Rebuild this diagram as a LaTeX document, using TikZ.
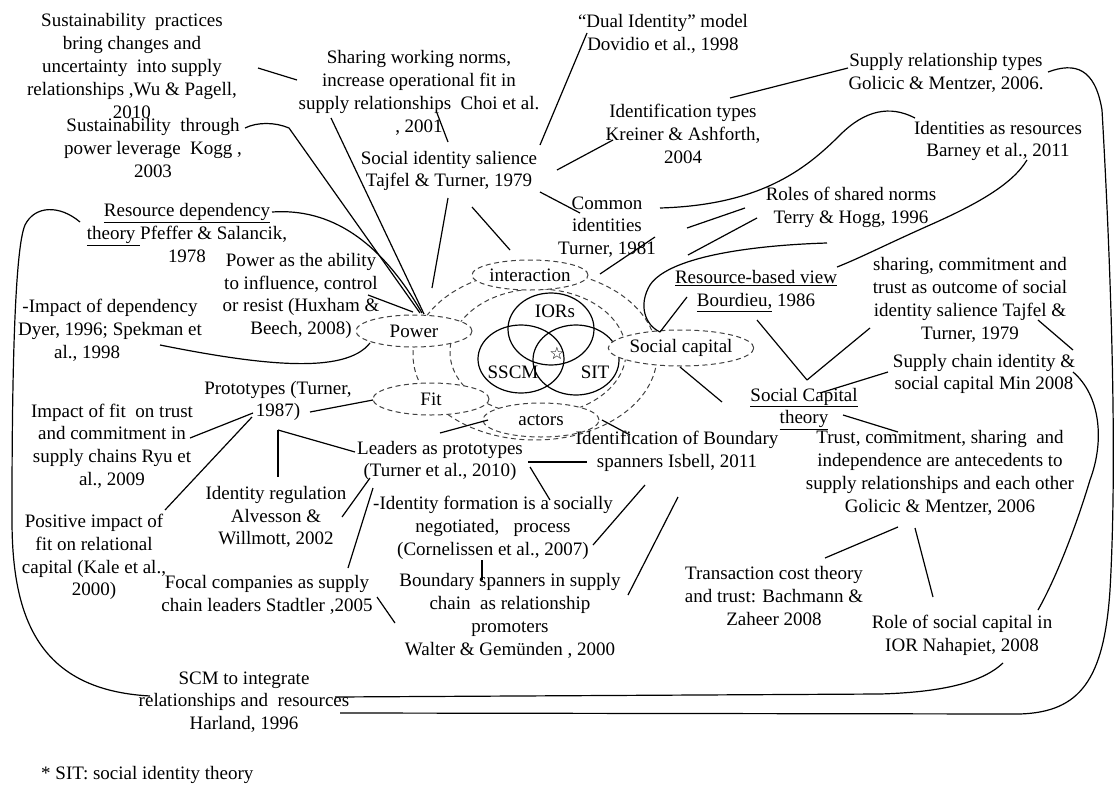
\documentclass[tikz,border=0pt]{standalone}
\usepackage{fontspec}
\setmainfont{Liberation Serif}
\newfontfamily\notesfont{Liberation Serif}
\newfontfamily\starfont{DejaVu Sans}
\usetikzlibrary{calc,shapes.geometric}

\begin{document}
\begin{tikzpicture}[x=1pt,y=-1pt,
  txt/.style={align=center,inner sep=1pt,font=\notesfont\fontsize{19pt}{22.8pt}\selectfont},
  link/.style={line width=1.2pt},
  dashring/.style={dash pattern=on 5pt off 3.5pt,line width=1pt,draw=black!75},
  topic/.style={ellipse,dashring,fill=white,minimum width=116pt,minimum height=32pt,inner sep=0pt,font=\notesfont\fontsize{19pt}{22.8pt}\selectfont},
  venn/.style={line width=1.2pt}]
\useasboundingbox (0,0) rectangle (1120,790);

% dashed rings round the core
\draw[dashring] (535,355) ellipse [x radius=122pt, y radius=85pt];
\draw[dashring] (538,352) ellipse [x radius=88pt, y radius=63pt];

% core Venn diagram
\draw[venn] (551,329) ellipse [x radius=43pt, y radius=36pt];
\draw[venn] (521,359) ellipse [x radius=43pt, y radius=34pt];
\draw[venn] (576,360) ellipse [x radius=43pt, y radius=35pt];
\node[txt] (ior) at (555,311) {IORs};
\node[txt] (sscm) at (513,372) {SSCM};
\node[txt] (sit) at (595,372) {SIT};
\node[inner sep=0pt,font=\starfont\fontsize{17pt}{17pt}\selectfont] (star) at (557,353) {☆};

% dashed concept ellipses
\node[topic] (power) at (414,331) {Power};
\node[topic] (fit) at (431,399) {Fit};
\node[topic,minimum height=30pt] (inter) at (530,275) {interaction};
\node[topic,minimum height=34pt] (actors) at (541,420) {actors};
\node[topic,minimum height=36pt] (socap) at (681,348) {Social capital};

% literature notes
\node[txt] (A) at (132,66) {Sustainability\ \ practices\\bring changes and\\uncertainty\ \ into supply\\relationships ,Wu \& Pagell,\\2010};
\node[txt] (B) at (153,148) {Sustainability\ \ through\\power leverage\ \ Kogg ,\\2003};
\node[txt] (C) at (419,93) {Sharing working norms,\\increase operational fit in\\supply relationships\ \ Choi et al.\\, 2001};
\node[txt] (D) at (449,171) {Social identity salience\\Tajfel \& Turner, 1979};
\node[txt] (E) at (663,34) {“Dual Identity” model\\Dovidio et al., 1998};
\node[txt] (F) at (683,134) {Identification types\\Kreiner \& Ashforth,\\2004};
\node[txt] (G) at (946,73) {Supply relationship types\\Golicic \& Mentzer, 2006.};
\node[txt] (H) at (998,141) {Identities as resources\\Barney et al., 2011};
\node[txt] (I) at (607,227) {Common\\identities\\Turner, 1981};
\node[txt] (J) at (851,207) {Roles of shared norms\\Terry \& Hogg, 1996};
\node[txt] (K) at (187,233) {\underline{Resource dependency}\\\underline{theory\ }Pfeffer \& Salancik,\\1978};
\node[txt] (L) at (301,296) {Power as the ability\\to influence, control\\or resist (Huxham \&\\Beech, 2008)};
\node[txt] (M) at (110,330) {-Impact of dependency\\Dyer, 1996; Spekman et\\al., 1998\hspace*{2.4em}};
\node[txt] (N) at (278,401) {Prototypes (Turner,\\1987)};
\node[txt] (O) at (112,446) {Impact of fit\ \ on trust\\and commitment in\\supply chains Ryu et\\al., 2009};
\node[txt] (P) at (94,557) {Positive impact of\\fit on relational\\capital (Kale et al.,\\2000)};
\node[txt] (Q) at (276,517) {Identity regulation\\Alvesson \&\\Willmott, 2002};
\node[txt] (R) at (267,595) {Focal companies as supply\\chain leaders Stadtler ,2005};
\node[txt] (S) at (440,461) {Leaders as prototypes\\(Turner et al., 2010)};
\node[txt] (T) at (493,528) {-Identity formation is a socially\\negotiated,\ \ \ process\\(Cornelissen et al., 2007)};
\node[txt] (U) at (677,451) {Identification of Boundary\\spanners Isbell, 2011};
\node[txt] (V) at (510,616) {Boundary spanners in supply\\chain\ \ as relationship\\promoters\\Walter \& Gemünden , 2000};
\node[txt] (W) at (756,291) {\underline{Resource-based view}\\\underline{Bourdieu,} 1986};
\node[txt] (X) at (970,300) {sharing, commitment and\\trust as outcome of social\\identity salience Tajfel \&\\Turner, 1979};
\node[txt] (Y) at (984,374) {Supply chain identity \&\\social capital Min 2008};
\node[txt] (Z) at (804,409) {\underline{Social Capital}\\\underline{theory}};
\node[txt] (AA) at (940,473) {Trust, commitment, sharing\ \ and\\independence are antecedents to\\supply relationships and each other\\Golicic \& Mentzer, 2006};
\node[txt] (AB) at (774,596) {Transaction cost theory\\and trust: Bachmann \&\\Zaheer 2008};
\node[txt] (AC) at (962,635) {Role of social capital in\\IOR Nahapiet, 2008};
\node[txt] (AD) at (244,702) {SCM to integrate\\relationships and\ \ resources\\Harland, 1996};
\node[txt,anchor=west] (AE) at (40,775) {* SIT: social identity theory};

\coordinate (ringtop) at (432,288);

% connectors, upper left
\draw[link] ($(A)+(126,2)$) -- ($(C)+(-122,-13)$);
\draw[link] ($(B)+(92,-20)$) .. controls ($(B)+(104,-26)$) and ($(B)+(122,-26)$) .. ($(B)+(136,-20)$) -- ($(power)+(6,-18)$);
\draw[link] ($(K)+(85,-21)$) .. controls ($(K)+(143,-25)$) and ($(K)+(193,7)$) .. ($(power)+(8,-18)$);
\draw[link] ($(C)+(-88,25)$) -- ($(power)+(10,-17)$);
\draw[link] ($(L)+(67,-1)$) -- ($(power)+(-1,-19)$);
\draw[link] ($(M)+(50,15)$) .. controls ($(M)+(150,35)$) and ($(M)+(235,45)$) .. ($(power)+(-44,12)$);
\draw[link] ($(K)+(-107,-11)$) .. controls (60,205) and (35,205) .. (25,225)
  .. controls (12,255) and (12,450) .. (12,520) .. controls (12,620) and (40,690) .. ($(AD)+(-94,-6)$);

% connectors round the salience note
\draw[link] ($(C)+(18,20)$) -- ($(D)+(-1,-29)$);
\draw[link] ($(D)+(91,-26)$) -- ($(E)+(-76,-1)$);
\draw[link] ($(D)+(108,-1)$) -- ($(F)+(-70,6)$);
\draw[link] ($(D)+(91,21)$) -- ($(I)+(-27,-14)$);
\draw[link] ($(D)+(23,36)$) -- ($(inter)+(-20,-25)$);
\draw[link] ($(D)+(-1,27)$) -- (ringtop);
\draw[link] ($(F)+(47,-36)$) -- ($(G)+(-98,-5)$);

% connectors, upper right
\draw[link] ($(G)+(102,-1)$) .. controls (1075,62) and (1095,68) .. (1102,110)
  .. controls (1110,250) and (1118,450) .. (1110,590)
  .. controls (1104,680) and (1080,712) .. (1020,714) -- ($(AD)+(96,11)$);
\draw[link] ($(H)+(-83,-23)$) .. controls (890,105) and (865,110) .. (840,135)
  .. controls (805,170) and (760,205) .. ($(I)+(53,-19)$);
\draw[link] ($(H)+(29,19)$) .. controls (1012,185) and (975,205) .. (930,225)
  .. controls (885,245) and (860,258) .. ($(W)+(81,-24)$);
\draw[link] ($(J)+(-106,1)$) -- ($(I)+(80,1)$);
\draw[link] ($(J)+(-94,11)$) -- ($(socap)+(7,-93)$);
\draw[link] ($(J)+(-24,36)$) .. controls (760,245) and (670,255) .. (650,285)
  .. controls (638,305) and (645,325) .. ($(socap)+(-21,-16)$);
\draw[link] ($(W)+(-69,6)$) -- ($(socap)+(-21,-16)$);
\draw[link] ($(inter)+(70,-1)$) -- ($(I)+(48,10)$);

% connectors round social capital theory
\draw[link] ($(socap)+(-1,19)$) -- ($(Z)+(-82,-7)$);
\draw[link] ($(W)+(1,29)$) -- ($(Z)+(3,-29)$);
\draw[link] ($(X)+(-100,28)$) -- ($(Z)+(3,-29)$);
\draw[link] ($(Y)+(-96,-2)$) -- ($(Z)+(16,-16)$);
\draw[link] ($(X)+(68,20)$) -- ($(Y)+(89,-24)$);
\draw[link] ($(Y)+(89,-2)$) .. controls (1100,395) and (1105,440) .. (1090,480)
  .. controls (1075,530) and (1055,580) .. ($(AC)+(76,-25)$);
\draw[link] ($(AC)+(41,28)$) .. controls (985,680) and (950,692) .. (880,694) -- ($(AD)+(91,-5)$);
\draw[link] ($(Z)+(39,6)$) -- ($(AA)+(-42,-41)$);
\draw[link] ($(AA)+(-42,54)$) -- ($(AB)+(51,-38)$);
\draw[link] ($(AA)+(-25,55)$) -- ($(AC)+(-29,-38)$);

% connectors, lower left and centre
\draw[link] ($(N)+(32,11)$) -- ($(fit)+(-58,1)$);
\draw[link] ($(N)+(-25,12)$) -- ($(O)+(78,-8)$);
\draw[link] ($(N)+(-26,16)$) -- ($(P)+(71,-47)$);
\draw[link] ($(N)+(0,29)$) -- ($(Q)+(2,-40)$);
\draw[link] ($(N)+(0,29)$) -- ($(S)+(-85,-9)$);
\draw[link] ($(S)+(-70,17)$) -- ($(Q)+(66,0)$);
\draw[link] ($(S)+(-67,27)$) -- ($(R)+(81,-27)$);
\draw[link] ($(R)+(110,2)$) -- ($(V)+(-115,7)$);
\draw[link] ($(S)+(0,-28)$) -- ($(actors)+(-53,0)$);
\draw[link] ($(actors)+(61,0)$) -- ($(U)+(-47,-16)$);
\draw[link] ($(S)+(88,1)$) -- ($(U)+(-90,11)$);
\draw[link] ($(S)+(90,6)$) -- ($(T)+(57,-28)$);
\draw[link] ($(T)+(100,17)$) -- ($(U)+(-32,34)$);
\draw[link] ($(V)+(118,-21)$) -- ($(U)+(1,46)$);
\draw[link] ($(T)+(-11,32)$) -- ($(V)+(-28,-36)$);
\end{tikzpicture}
\end{document}
